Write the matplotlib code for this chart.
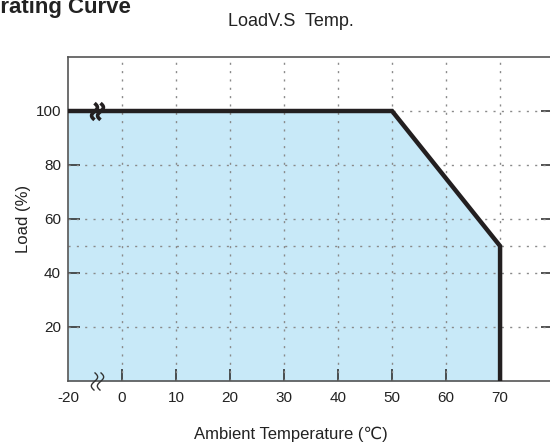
import matplotlib.pyplot as plt
import numpy as np
from matplotlib.path import Path

plt.rcParams['font.family'] = ['Liberation Sans', 'DejaVu Sans']
plt.rcParams['axes.unicode_minus'] = False

# derating curve (temperature in C, load in %)
temps = [-20, 50, 70, 70]
loads = [100, 100, 50, 0]
x_ticks = [-20, 0, 10, 20, 30, 40, 50, 60, 70]
y_ticks = [20, 40, 60, 80, 100]
x_grid = [0, 10, 20, 30, 40, 50, 60, 70]
y_grid = [20, 40, 50, 60, 80, 100]
break_x = [-10.2, -8.0]


# broken axis: -20..0 is squeezed into the width of 10 degrees
def fwd(x):
    x = np.asarray(x, dtype=float)
    return np.where(x < 0, x / 2, x)


def inv(x):
    x = np.asarray(x, dtype=float)
    return np.where(x < 0, x * 2, x)


# small vertical S-curve used as the axis break symbol
t = np.linspace(-1, 1, 25)
squiggle = Path(np.column_stack([-0.35 * np.sin(np.pi * t), -t]))

fig = plt.figure(figsize=(5.5, 4.46), dpi=100)
ax = fig.add_axes([68 / 550, 65 / 446, 485 / 550, 324 / 446])

ax.set_xscale('function', functions=(fwd, inv))
ax.set_xlim(-20, 79.8)
ax.set_ylim(0, 120)

ax.fill_between(temps, loads, 0, color='#c8e9f8', lw=0, zorder=1)
for g in x_grid:
    ax.axvline(g, color='#8a8a8a', lw=1, ls=(0, (1.5, 4.5)), zorder=2)
for g in y_grid:
    ax.axhline(g, color='#8a8a8a', lw=1, ls=(0, (1.5, 4.5)), zorder=2)
ax.plot(temps, loads, color='#231f20', lw=3.2, solid_joinstyle='miter', zorder=3)

# axis break marks
ax.plot(break_x, [100, 100], ls='none', marker=squiggle, ms=12, mfc='none',
        mec='#231f20', mew=2.6, zorder=4)
ax.plot(break_x, [0, 0], ls='none', marker=squiggle, ms=13, mfc='none',
        mec='#333333', mew=1.0, zorder=4, clip_on=False)

ax.set_xticks(x_ticks)
ax.set_xticklabels([str(t) for t in x_ticks])
ax.xaxis.set_minor_locator(plt.NullLocator())
ax.set_yticks(y_ticks)
ax.tick_params(direction='in', length=8.6, width=1.2, color='#333333', labelsize=11,
               labelcolor='#222222', pad=7, right=True)
ax.tick_params(axis='y', pad=5)
ax.xaxis.get_major_ticks()[0].tick1line.set_visible(False)
for s in ax.spines.values():
    s.set_color('#555555')
    s.set_linewidth(1.2)

ax.set_xlabel('Ambient Temperature (\u2103)', fontsize=12, color='#222222')
ax.xaxis.set_label_coords(0.46, -0.14)
ax.set_ylabel('Load (%)', fontsize=12, color='#222222', labelpad=3)

fig.text(-0.051, 1 - 13 / 446, 'Derating Curve', fontsize=16, fontweight='bold',
         va='baseline', ha='left', color='#222222')
fig.text(291 / 550, 1 - 22 / 446, 'LoadV.S  Temp.', fontsize=13, va='center', ha='center',
         color='#222222')

fig.savefig('out.png', dpi=100)
